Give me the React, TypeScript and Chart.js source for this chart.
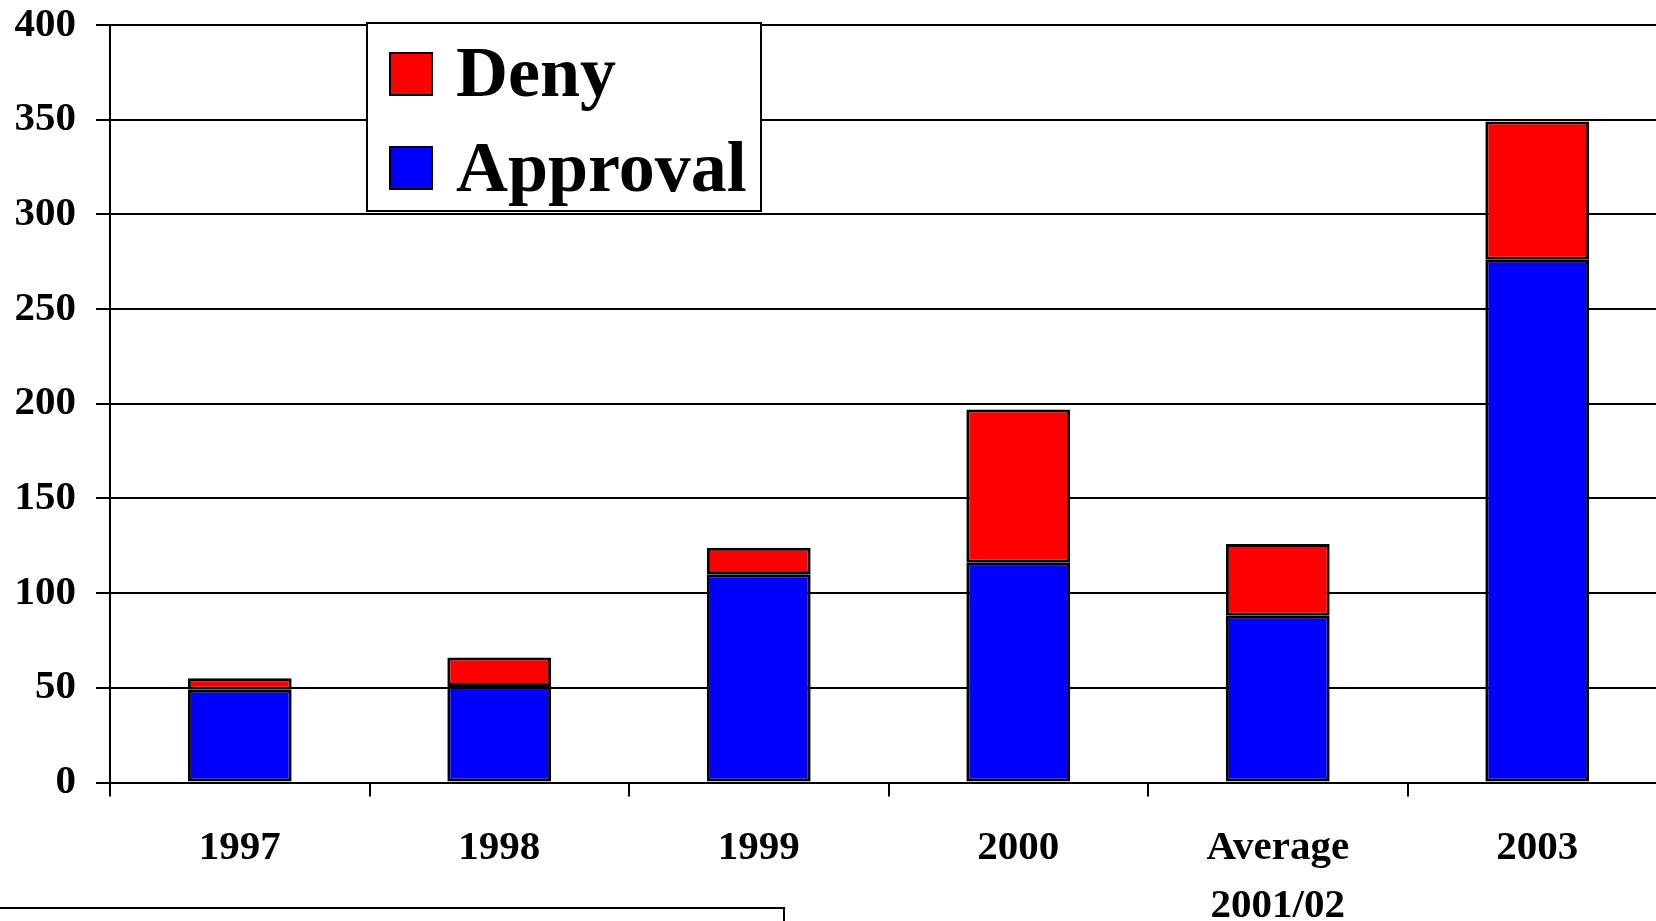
import React, { useEffect, useRef } from "react";
import { Chart, registerables } from "chart.js";

Chart.register(...registerables);

const categories: (string | string[])[] = ["1997", "1998", "1999", "2000", ["Average", "2001/02"], "2003"];
const approvalValues = [49, 51, 110, 116, 88, 276];
const denyValues = [6, 15, 14, 81, 38, 73];
const yTicks = { min: 0, max: 400, step: 50 };
const legendLabels = ["Deny", "Approval"];
const colors = { deny: "#FF0000", approval: "#0000FF" };

const FONT = "'Liberation Serif', 'Times New Roman', serif";

export default function App() {
  const ref = useRef<HTMLCanvasElement | null>(null);

  useEffect(() => {
    if (!ref.current) return;
    const chart = new Chart(ref.current, {
      type: "bar",
      data: {
        labels: categories,
        datasets: [
          {
            label: legendLabels[1],
            data: approvalValues,
            backgroundColor: colors.approval,
            borderColor: "#000",
            borderWidth: 3,
            borderSkipped: false,
          },
          {
            label: legendLabels[0],
            data: denyValues,
            backgroundColor: colors.deny,
            borderColor: "#000",
            borderWidth: 3,
            borderSkipped: false,
          },
        ],
      },
      options: {
        responsive: false,
        animation: false,
        devicePixelRatio: 1,
        layout: { padding: { top: 25, right: 13, left: 0, bottom: 0 } },
        plugins: { legend: { display: false }, tooltip: { enabled: false } },
        datasets: { bar: { categoryPercentage: 1, barPercentage: 0.4 } },
        scales: {
          x: {
            stacked: true,
            offset: true,
            grid: {
              offset: true,
              drawOnChartArea: false,
              drawTicks: true,
              tickLength: 14,
              color: "#000",
              lineWidth: 2,
            },
            border: { display: true, color: "#000", width: 2 },
            ticks: {
              color: "#000",
              padding: 23,
              maxRotation: 0,
              autoSkip: false,
              font: { family: FONT, weight: "bold", size: 41, lineHeight: 1.42 },
            },
            afterFit: (scale: any) => {
              scale.height = 138.5;
            },
          },
          y: {
            stacked: true,
            min: yTicks.min,
            max: yTicks.max,
            ticks: {
              stepSize: yTicks.step,
              color: "#000",
              padding: 20,
              font: { family: FONT, weight: "bold", size: 41 },
            },
            grid: { color: "#000", lineWidth: 2, tickLength: 14, drawTicks: true },
            border: { display: true, color: "#000", width: 2 },
            afterFit: (scale: any) => {
              scale.width = 110;
              scale.paddingTop = 0;
              scale.paddingBottom = 0;
            },
          },
        },
      },
    });
    return () => chart.destroy();
  }, []);

  const legendText: React.CSSProperties = {
    position: "absolute",
    left: 88,
    fontFamily: FONT,
    fontWeight: "bold",
    fontSize: 72,
    lineHeight: "72px",
    color: "#000",
    whiteSpace: "nowrap",
  };
  const swatch: React.CSSProperties = {
    position: "absolute",
    left: 21,
    width: 40,
    height: 40,
    border: "2px solid #000",
  };

  return (
    <div
      style={{
        position: "absolute",
        left: 0,
        top: 0,
        width: 1656,
        height: 921,
        overflow: "hidden",
        background: "#fff",
      }}
    >
      <canvas ref={ref} width={1680} height={921} style={{ position: "absolute", left: 0, top: 0 }} />
      <div
        style={{
          position: "absolute",
          left: 366,
          top: 22,
          width: 392,
          height: 186,
          border: "2px solid #000",
          background: "#fff",
        }}
      >
        <div style={{ ...swatch, top: 28, background: colors.deny }} />
        <div style={{ ...legendText, top: 12 }}>{legendLabels[0]}</div>
        <div style={{ ...swatch, top: 122, background: colors.approval }} />
        <div style={{ ...legendText, top: 107 }}>{legendLabels[1]}</div>
      </div>
      <div
        style={{
          position: "absolute",
          left: -4,
          top: 907,
          width: 785,
          height: 40,
          border: "2px solid #000",
        }}
      />
    </div>
  );
}
